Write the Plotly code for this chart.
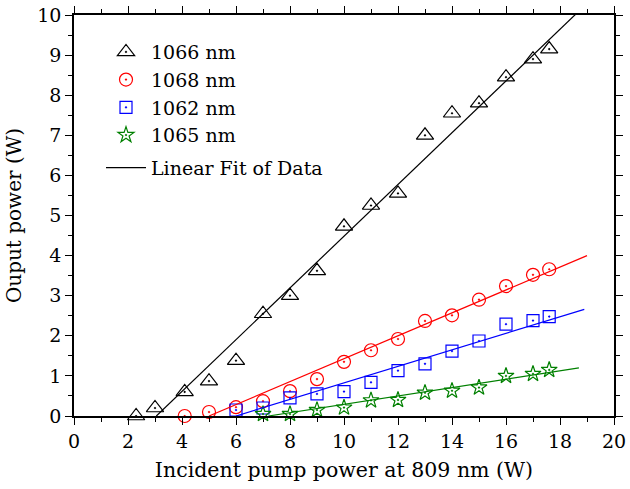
import plotly.graph_objects as go

# ---- data ----
x_1066 = [2.3, 3.0, 4.1, 5.0, 6.0, 7.0, 8.0, 9.0, 10.0, 11.0, 12.0, 13.0, 14.0, 15.0, 16.0, 17.0, 17.6]
y_1066 = [0.0, 0.2, 0.6, 0.87, 1.38, 2.55, 3.0, 3.62, 4.73, 5.25, 5.55, 7.0, 7.55, 7.8, 8.45, 8.9, 9.15]

x_1068 = [4.1, 5.0, 6.0, 7.0, 8.0, 9.0, 10.0, 11.0, 12.0, 13.0, 14.0, 15.0, 16.0, 17.0, 17.6]
y_1068 = [0.0, 0.1, 0.22, 0.37, 0.62, 0.92, 1.35, 1.64, 1.92, 2.37, 2.51, 2.9, 3.24, 3.52, 3.66]

x_1062 = [6.0, 7.0, 8.0, 9.0, 10.0, 11.0, 12.0, 13.0, 14.0, 15.0, 16.0, 17.0, 17.6]
y_1062 = [0.15, 0.2, 0.45, 0.55, 0.61, 0.84, 1.13, 1.3, 1.62, 1.87, 2.29, 2.38, 2.48]

x_1065 = [7.0, 8.0, 9.0, 10.0, 11.0, 12.0, 13.0, 14.0, 15.0, 16.0, 17.0, 17.6]
y_1065 = [0.05, 0.05, 0.15, 0.21, 0.39, 0.4, 0.58, 0.63, 0.71, 1.0, 1.05, 1.15]

# linear fits: [x_start, x_end], [y_start, y_end]
fit_1066_x = [3.05, 19.0]
fit_1066_y = [0.0, 10.29]
fit_1068_x = [5.0, 19.0]
fit_1068_y = [0.0, 4.0]
fit_1062_x = [6.0, 18.9]
fit_1062_y = [0.0, 2.66]
fit_1065_x = [7.2, 18.7]
fit_1065_y = [0.0, 1.2]

series_names = ["1066 nm", "1068 nm", "1062 nm", "1065 nm"]
x_ticks = [0, 2, 4, 6, 8, 10, 12, 14, 16, 18, 20]
y_ticks = [0, 1, 2, 3, 4, 5, 6, 7, 8, 9, 10]

FONT = "DejaVu Serif"

fig = go.Figure()

def pts(x, y, name, color, symbol, size):
    fig.add_trace(go.Scatter(
        x=x, y=y, mode="markers", name=name, legendgroup="data",
        marker=dict(symbol=symbol, size=size, color=color,
                    line=dict(color=color, width=1.2)),
        cliponaxis=False,
    ))

def fit(x, y, color, name=None, show=False):
    fig.add_trace(go.Scatter(
        x=x, y=y, mode="lines", name=name or "", legendgroup="fit",
        line=dict(color=color, width=1.2), showlegend=show,
    ))

pts(x_1066, y_1066, series_names[0], "black", "triangle-up-open-dot", 15)
pts(x_1068, y_1068, series_names[1], "red", "circle-open-dot", 13)
pts(x_1062, y_1062, series_names[2], "blue", "square-open-dot", 12)
pts(x_1065, y_1065, series_names[3], "green", "star-open-dot", 12)
fit(fit_1066_x, fit_1066_y, "black", "Linear Fit of Data", True)
fit(fit_1068_x, fit_1068_y, "red")
fit(fit_1062_x, fit_1062_y, "blue")
fit(fit_1065_x, fit_1065_y, "green")

axis_common = dict(
    showgrid=False, zeroline=False, showline=True, linecolor="black",
    linewidth=1.6, mirror="ticks", ticks="outside", ticklen=7,
    tickwidth=1.4, tickcolor="black", automargin=False,
    tickfont=dict(family=FONT, size=19, color="black"),
)

fig.update_xaxes(
    range=[0, 20], tickvals=x_ticks,
    title=dict(text="Incident pump power at 809 nm (W)",
               font=dict(family=FONT, size=20.5, color="black"), standoff=12),
    minor=dict(dtick=1, ticks="outside", ticklen=4, tickcolor="black", tickwidth=1.2),
    **axis_common,
)
fig.update_yaxes(
    range=[0, 10], tickvals=y_ticks,
    title=dict(text="Ouput power (W)",
               font=dict(family=FONT, size=20, color="black"), standoff=10),
    minor=dict(dtick=0.5, ticks="outside", ticklen=4, tickcolor="black", tickwidth=1.2),
    **axis_common,
)

fig.update_layout(
    width=630, height=489,
    margin=dict(l=74, r=16, t=15, b=73),
    plot_bgcolor="white", paper_bgcolor="white",
    font=dict(family=FONT, size=19, color="black"),
    legend=dict(x=0.05, y=0.955, xanchor="left", yanchor="top",
                bgcolor="rgba(0,0,0,0)", font=dict(family=FONT, size=19),
                itemwidth=40, traceorder="grouped", tracegroupgap=5),
)

fig.write_html("out.html")
